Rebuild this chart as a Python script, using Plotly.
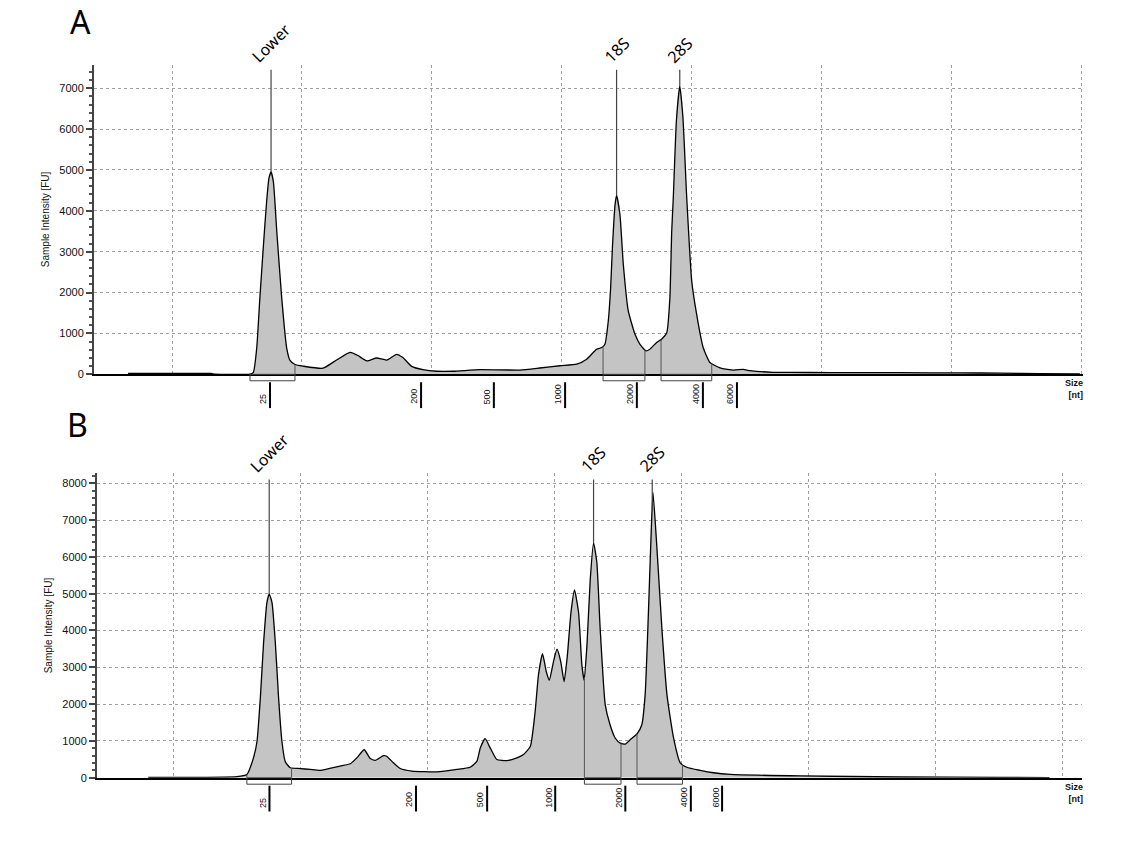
import numpy as np
import plotly.graph_objects as go

# ---------------- DATA ----------------
# Panel A electropherogram: migration time (s) and fluorescence (FU)
a_time = [18.31, 21.50, 21.65, 23.00, 23.13, 23.26, 23.38, 23.51, 23.64, 23.73, 23.81, 23.90,
          24.03, 24.22, 24.41, 24.54, 24.73, 25.04, 25.81, 26.33, 26.85, 27.15, 27.49, 27.87,
          28.26, 28.64, 28.88, 29.22, 29.65, 30.18, 30.81, 31.85, 33.38, 34.15, 34.92, 35.57,
          35.95, 36.33, 36.53, 36.65, 36.78, 36.87, 36.94, 37.04, 37.10, 37.23, 37.36, 37.55,
          37.81, 38.00, 38.23, 38.38, 38.64, 38.83, 39.03, 39.15, 39.22, 39.28, 39.40, 39.53,
          39.65, 39.80, 39.99, 40.18, 40.43, 40.69, 41.08, 41.58, 41.97, 42.23, 43.12, 43.77,
          45.31, 48.00, 50.31, 51.85, 53.38, 54.92]
a_fu = [20, 20, 5, 5, 50, 650, 1870, 3090, 4230, 4800, 4950, 4710,
        3500, 1870, 650, 340, 240, 200, 150, 350, 535, 460, 330, 400,
        350, 490, 410, 195, 115, 75, 75, 115, 105, 155, 210, 250,
        370, 615, 655, 735, 1300, 2100, 3100, 4140, 4380, 3900, 2680, 1550,
        980, 735, 575, 615, 780, 860, 1020, 1870, 3490, 4300, 6200, 7050,
        6300, 4300, 2280, 1465, 655, 290, 155, 105, 120, 90, 50, 50,
        40, 40, 35, 30, 15, 10]

# Panel B electropherogram
b_time = [19.02, 22.51, 22.90, 23.16, 23.30, 23.43, 23.56, 23.69, 23.78, 23.89, 24.02, 24.15,
          24.28, 24.41, 24.61, 25.00, 25.39, 25.79, 26.57, 26.97, 27.23, 27.52, 27.76, 27.95,
          28.28, 28.39, 28.67, 28.94, 29.40, 30.38, 31.17, 31.69, 31.96, 32.09, 32.28, 32.48,
          32.74, 33.14, 33.53, 33.79, 34.06, 34.25, 34.38, 34.54, 34.69, 34.81, 34.97, 35.11,
          35.26, 35.39, 35.52, 35.66, 35.80, 35.96, 36.09, 36.18, 36.29, 36.42, 36.55, 36.68,
          36.81, 37.01, 37.20, 37.40, 37.60, 37.80, 37.99, 38.26, 38.45, 38.58, 38.71, 38.82,
          38.89, 39.04, 39.24, 39.44, 39.70, 39.96, 40.22, 40.75, 41.27, 41.93, 44.69, 48.62,
          52.56, 54.50]
b_fu = [10, 30, 90, 540, 990, 2160, 3680, 4760, 4990, 4760, 3680, 2160,
        990, 440, 270, 250, 225, 200, 315, 380, 540, 760, 520, 470,
        600, 590, 405, 250, 180, 160, 225, 285, 450, 810, 1060, 810,
        495, 465, 540, 630, 850, 1800, 2790, 3370, 2880, 2650, 3150, 3490,
        3150, 2610, 3330, 4490, 5100, 4490, 3060, 2650, 3600, 5390, 6380, 5840,
        4050, 1980, 1440, 1080, 940, 915, 1030, 1190, 1440, 2250, 4490, 6700,
        7750, 6290, 4050, 2250, 1080, 405, 285, 200, 135, 90, 50, 20,
        10, 5]

# Ladder (size) ticks in nt and their migration times
ladder_labels = ["25", "200", "500", "1000", "2000", "4000", "6000"]
a_ladder_time = [23.77, 29.58, 32.38, 35.12, 37.88, 40.42, 41.73]
b_ladder_time = [23.79, 29.56, 32.36, 35.04, 37.80, 40.38, 41.61]

# Identified peaks
peak_names = ["Lower", "18S", "28S"]
a_peak_time = [23.81, 37.10, 39.53]
b_peak_time = [23.78, 36.55, 38.86]
a_peak_line_top = 7450
b_peak_line_top = 8100

# Peak integration windows (start, end) in s
a_windows = [(23.00, 24.73), (36.58, 38.19), (38.81, 40.76)]
b_windows = [(22.90, 24.66), (36.19, 37.63), (38.26, 40.05)]

# ---------------- LAYOUT HELPERS ----------------
W, H = 1130, 845


def py(pix):
    return 1 - pix / H


panels = [
    dict(t=a_time, v=a_fu, lad=a_ladder_time, pk=a_peak_time, top=a_peak_line_top,
         win=a_windows, xa="x", ya="y", xr=[17.0, 55.04], yr=[0, 7580],
         xdom=[94 / W, 1083 / W], ydom=[py(377), py(65)], yticks=list(range(0, 8000, 1000)),
         base=377, letter="A", letter_xy=(80, 22)),
    dict(t=b_time, v=b_fu, lad=b_ladder_time, pk=b_peak_time, top=b_peak_line_top,
         win=b_windows, xa="x2", ya="y2", xr=[17.0, 55.78], yr=[0, 8270],
         xdom=[97 / W, 1082 / W], ydom=[py(783.3), py(476.7)], yticks=list(range(0, 9000, 1000)),
         base=783.3, letter="B", letter_xy=(77, 428)),
]

fig = go.Figure()
shapes = []
annotations = []
layout_axes = {}

for i, p in enumerate(panels):
    xa, ya = p["xa"], p["ya"]
    fig.add_trace(go.Scatter(
        x=p["t"], y=p["v"], mode="lines", fill="tozeroy", fillcolor="#c4c4c4",
        line=dict(color="black", width=1.3, shape="spline", smoothing=0.5),
        xaxis=xa, yaxis=ya, showlegend=False, hoverinfo="skip"))

    xkey = "xaxis" if xa == "x" else "xaxis2"
    ykey = "yaxis" if ya == "y" else "yaxis2"
    layout_axes[xkey] = dict(
        domain=p["xdom"], range=p["xr"], anchor=ya, tick0=20, dtick=5,
        showticklabels=False, ticks="", showgrid=True, gridcolor="#a0a0a0",
        griddash="dot", gridwidth=1, zeroline=False, showline=True,
        linecolor="black", linewidth=1.5)
    layout_axes[ykey] = dict(
        domain=p["ydom"], range=p["yr"], anchor=xa, tickmode="array",
        tickvals=p["yticks"], ticks="outside", ticklen=6, tickwidth=1.5,
        tickcolor="#444", showgrid=True, gridcolor="#a0a0a0", griddash="dot",
        gridwidth=1, zeroline=False, showline=True, linecolor="#444", linewidth=2,
        tickfont=dict(family="Liberation Sans", size=11, color="#111"),
        minor=dict(dtick=200, ticks="outside", ticklen=3, tickcolor="#555", showgrid=False),
        title=dict(text="Sample Intensity [FU]", standoff=8,
                   font=dict(family="Liberation Sans", size=10, color="#111")))

    base = p["base"]
    xref = xa
    yref = ya

    # ladder tick marks and labels under the axis
    for lt, lab in zip(p["lad"], ladder_labels):
        shapes.append(dict(type="line", xref=xref, yref="paper", x0=lt, x1=lt,
                           y0=py(base + 8), y1=py(base + 34), line=dict(color="black", width=2)))
        annotations.append(dict(x=lt, y=py(base + 32), xref=xref, yref="paper",
                                text=lab, textangle=-90, showarrow=False,
                                xanchor="center", yanchor="bottom", xshift=-7,
                                font=dict(family="Liberation Sans", size=9, color="#111")))

    # integration windows: bracket below axis and boundary lines
    for (w0, w1) in p["win"]:
        shapes.append(dict(type="rect", xref=xref, yref="paper", x0=w0, x1=w1,
                           y0=py(base + 6.5), y1=py(base), line=dict(color="#444", width=1),
                           fillcolor="rgba(0,0,0,0)"))
        for wx in (w0, w1):
            shapes.append(dict(type="line", xref=xref, yref=yref, x0=wx, x1=wx, y0=0,
                               y1=float(np.interp(wx, p["t"], p["v"])),
                               line=dict(color="#555", width=1)))

    # peak marker lines and names
    for pt, name in zip(p["pk"], peak_names):
        shapes.append(dict(type="line", xref=xref, yref=yref, x0=pt, x1=pt,
                           y0=float(np.interp(pt, p["t"], p["v"])), y1=p["top"],
                           line=dict(color="#444", width=1.2)))
        annotations.append(dict(x=pt, y=p["top"], xref=xref, yref=yref, text=name,
                                textangle=-45, showarrow=False, xanchor="center",
                                yanchor="bottom", yshift=0,
                                font=dict(family="Noto Sans", size=16, color="black")))

    # Size [nt] label
    annotations.append(dict(x=1085 / W, y=py(base + 2), xref="paper", yref="paper",
                            text="<b>Size</b><br><b>[nt]</b>", showarrow=False,
                            xanchor="right", yanchor="top", align="right",
                            font=dict(family="Liberation Sans", size=9, color="#111")))

    # panel letter
    lx, ly = p["letter_xy"]
    annotations.append(dict(x=lx / W, y=py(ly), xref="paper", yref="paper",
                            text=p["letter"], showarrow=False, xanchor="center",
                            yanchor="middle",
                            font=dict(family="Noto Sans", size=32, color="black")))

fig.update_layout(
    width=W, height=H, margin=dict(l=0, r=0, t=0, b=0),
    paper_bgcolor="white", plot_bgcolor="white",
    shapes=shapes, annotations=annotations, hovermode=False,
    **layout_axes)

fig.write_html("out.html", config={"displayModeBar": False},
               post_script="document.body.style.margin='0';document.body.style.overflow='hidden';")
